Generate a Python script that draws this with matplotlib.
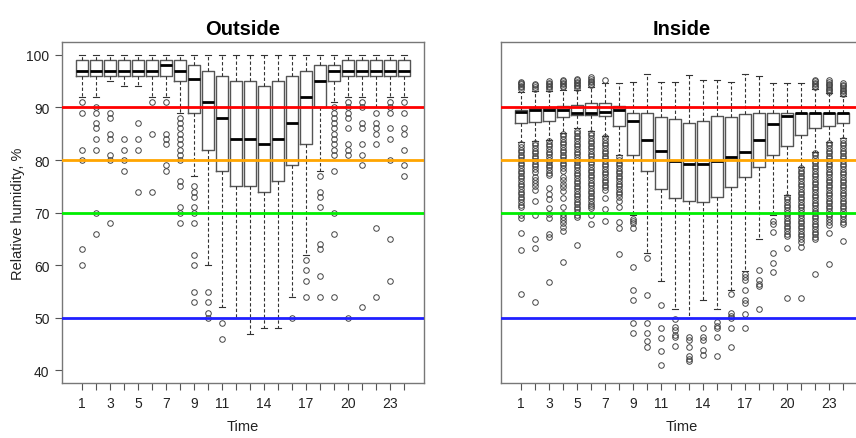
import matplotlib
matplotlib.use('Agg')
import matplotlib.pyplot as plt

plt.rcParams['font.family'] = ['Liberation Sans', 'DejaVu Sans']

hours = list(range(1, 25))
shown_labels = [1, 3, 5, 7, 9, 11, 14, 17, 20, 23]
ref_levels = [90, 80, 70, 50]
ref_colors = ['#FF0000', '#FFA500', '#00EE00', '#2020FF']

# Outside
out_q1 = [96, 96, 96, 96, 96, 96, 96, 95, 89, 82, 78, 75, 75, 74, 76, 79, 83, 90, 95, 96, 96, 96, 96, 96]
out_med = [97, 97, 97, 97, 97, 97, 98, 97, 95.5, 91, 88, 84, 84, 83, 84, 87, 92, 95, 97, 97, 97, 97, 97, 97]
out_q3 = [99, 99, 99, 99, 99, 99, 99, 99, 98, 97, 96, 95, 95, 94, 95, 96, 97, 98, 98, 99, 99, 99, 99, 99]
out_lo = [92, 92, 95, 94, 94, 92, 92, 89, 77, 60, 52, 50, 47, 48, 48, 54, 62, 78, 91, 92, 92, 90, 92, 92]
out_hi = [100, 100, 100, 100, 100, 100, 100, 100, 100, 100, 100, 100,
          100, 100, 100, 100, 100, 100, 100, 100, 100, 100, 100, 100]
out_fliers = [
    [91, 89, 82, 80, 63, 60],
    [90, 89, 87, 86, 84, 82, 70, 66],
    [89, 88, 85, 84, 81, 80, 68],
    [84, 82, 80, 78],
    [87, 84, 82, 74],
    [91, 85, 74],
    [91, 85, 84, 83, 79, 78],
    [88, 87, 86, 85, 84, 83, 82, 81, 80, 76, 75, 71, 70, 68],
    [75, 74, 73, 71, 70, 68, 62, 60, 55, 53],
    [55, 53, 51, 50],
    [49, 46],
    [],
    [],
    [],
    [],
    [50],
    [61, 59, 57, 54],
    [77, 74, 73, 71, 64, 63, 58, 54],
    [90, 89, 88, 87, 86, 85, 84, 83, 82, 81, 78, 70, 66, 54],
    [91, 90, 89, 88, 86, 83, 82, 81, 50],
    [91, 90, 87, 86, 83, 81, 79, 52],
    [89, 87, 86, 85, 83, 67, 54],
    [91, 90, 89, 86, 84, 80, 65, 57],
    [91, 89, 86, 85, 82, 79, 77],
]

# Inside
in_q1 = [87.1, 87.3, 87.5, 88.1, 88.5, 88.6, 88.3, 86.4, 81.0, 77.9, 74.5, 72.8,
         72.2, 72.1, 72.9, 74.9, 76.7, 78.6, 81.0, 82.7, 84.8, 86.0, 86.5, 87.0]
in_med = [89.1, 89.5, 89.5, 89.5, 89.0, 89.0, 89.1, 89.5, 87.5, 83.8, 81.8, 79.8,
          79.3, 79.3, 79.8, 80.6, 81.6, 83.8, 86.8, 88.4, 89.0, 89.0, 89.0, 89.0]
in_q3 = [89.5, 89.9, 89.9, 90.3, 90.5, 90.8, 90.9, 90.3, 89.0, 89.0, 88.2, 87.8,
         87.1, 87.5, 88.3, 88.2, 88.8, 89.0, 89.0, 89.0, 89.0, 89.0, 89.0, 89.0]
in_lo = [83.5, 83.6, 83.8, 85.2, 86.0, 85.5, 84.6, 80.9, 69.6, 62.4, 57.0, 51.7,
         50.0, 53.4, 51.7, 55.2, 58.9, 65.0, 69.5, 73.3, 78.7, 81.6, 83.5, 84.1]
in_hi = [93.0, 93.2, 93.2, 93.4, 93.4, 93.9, 94.6, 94.6, 94.9, 96.4, 94.9, 94.9,
         96.2, 95.2, 95.2, 94.9, 96.3, 96.0, 94.6, 94.6, 94.7, 93.5, 92.8, 92.2]
in_fliers = [
    [93.5, 93.8, 94.1, 94.4, 94.7, 94.9,
     83.0, 82.5, 82.0, 81.5, 81.0, 80.5, 80.0, 79.5, 79.0, 78.5, 78.0, 77.5, 77.0,
     76.5, 76.0, 75.5, 75.0, 74.5, 74.0, 73.5, 73.0, 72.5, 72.0, 71.5, 71.0,
     69.5, 69.0, 66.1, 62.8, 54.5],
    [93.6, 93.9, 94.2, 94.5,
     83.3, 82.8, 82.3, 81.8, 81.3, 80.8, 80.3, 79.8, 79.3, 78.8, 78.3, 77.8,
     76.8, 76.2, 75.6, 75.0, 74.3, 72.2, 69.6, 64.9, 63.3, 53.0],
    [93.5, 93.8, 94.1, 94.4, 94.7, 95.0,
     83.6, 83.1, 82.6, 82.1, 81.6, 81.1, 80.6, 80.1, 79.6, 79.1, 78.6, 78.1, 77.6, 77.1,
     74.6, 73.6, 72.5, 70.8, 69.7, 69.0, 66.0, 65.4, 56.8],
    [93.8, 94.1, 94.4, 94.7, 95.0, 95.3,
     85.0, 84.5, 84.0, 83.5, 83.0, 82.5, 82.0, 81.5, 81.0, 80.5, 80.0, 79.5, 79.0,
     78.5, 78.0, 76.8, 76.2, 75.5, 74.8, 74.2, 72.8, 71.0, 69.7, 69.2, 68.6, 68.0,
     67.3, 66.6, 60.6],
    [93.7, 94.0, 94.3, 94.6, 94.9, 95.2, 95.4,
     85.6, 85.1, 84.6, 84.1, 83.6, 83.1, 82.6, 82.1, 81.6, 81.1, 80.6, 80.1, 79.6,
     79.1, 78.6, 78.1, 77.6, 77.1, 76.6, 76.1, 75.6, 75.1, 74.6, 74.1, 73.6, 73.1,
     72.6, 72.1, 71.6, 71.1, 70.6, 70.1, 69.6, 69.1, 63.8],
    [94.2, 94.5, 94.8, 95.1, 95.4, 95.7,
     85.2, 84.7, 84.2, 83.7, 83.2, 82.7, 82.2, 81.7, 81.2, 80.7, 80.2, 79.7, 79.2,
     78.7, 78.2, 77.7, 77.2, 76.7, 76.2, 75.7, 75.2, 74.7, 74.2, 73.7, 73.2, 72.7,
     72.2, 71.7, 71.2, 70.8, 69.5, 67.9],
    [95.2,
     84.3, 83.8, 83.3, 82.8, 82.3, 81.8, 81.3, 80.8, 80.3, 79.8, 79.3, 78.8, 78.3,
     77.8, 77.3, 76.8, 76.3, 75.8, 75.3, 74.8, 74.3, 72.7, 70.7, 68.4],
    [80.5, 80.0, 79.5, 79.0, 78.5, 78.0, 77.5, 77.0, 76.5, 76.0, 75.5, 75.0, 74.5,
     74.0, 73.5, 73.0, 72.2, 71.0, 68.2, 67.0, 62.2],
    [68.7, 68.4, 68.0, 67.0, 59.7, 55.2, 53.4, 49.0, 47.2],
    [61.4, 54.3, 49.0, 47.2, 45.5, 44.5],
    [52.5, 48.1, 46.2, 43.7, 41.0],
    [49.8, 48.2, 47.6, 46.8, 46.3, 44.6],
    [46.3, 45.7, 44.5, 42.8, 42.2, 41.7],
    [48.1, 46.3, 45.7, 43.8, 43.0],
    [49.2, 48.5, 48.0, 46.3, 42.7],
    [54.5, 51.0, 50.4, 49.9, 48.1, 44.5],
    [58.4, 57.8, 57.2, 55.2, 53.4, 52.8, 50.8, 48.1],
    [59.0, 57.2, 56.5, 56.0, 51.7],
    [68.4, 67.9, 66.4, 62.3, 60.5, 58.7],
    [73.0, 72.5, 72.0, 71.5, 71.0, 70.5, 70.0, 69.5, 69.0, 68.5, 68.0, 67.5, 67.0,
     66.5, 66.0, 65.5, 63.3, 53.8],
    [78.5, 78.0, 77.5, 77.0, 76.5, 76.0, 75.5, 75.0, 74.5, 74.0, 73.5, 73.0, 72.5,
     72.0, 71.5, 71.0, 70.5, 70.0, 69.5, 69.0, 68.5, 68.0, 67.5, 67.0, 66.5, 66.0,
     65.5, 65.0, 64.5, 63.5, 53.8],
    [93.8, 94.1, 94.4, 94.7, 95.0, 95.2,
     81.4, 80.9, 80.4, 79.9, 79.4, 78.9, 78.4, 77.9, 77.4, 76.9, 76.4, 75.9, 75.4,
     74.9, 74.4, 73.9, 73.4, 72.9, 72.4, 71.9, 71.4, 70.9, 70.4, 69.9, 69.4, 68.9,
     68.4, 67.9, 67.4, 66.9, 66.4, 65.9, 65.4, 65.0, 58.4],
    [93.0, 93.3, 93.6, 93.9, 94.2, 94.5, 94.8, 95.2,
     83.3, 82.8, 82.3, 81.8, 81.3, 80.8, 80.3, 79.8, 79.3, 78.8, 78.3, 77.8, 77.3,
     76.8, 76.3, 75.8, 75.3, 74.8, 74.3, 73.8, 73.3, 72.8, 72.3, 71.8, 71.3, 70.8,
     70.3, 69.8, 69.3, 68.8, 68.3, 67.6, 66.1, 60.3],
    [92.5, 92.8, 93.1, 93.4, 93.7, 94.0, 94.3, 94.6,
     83.8, 83.3, 82.8, 82.3, 81.8, 81.3, 80.8, 80.3, 79.8, 79.3, 78.8, 78.3, 77.8,
     77.3, 76.8, 76.3, 75.8, 75.3, 74.8, 74.3, 73.8, 73.3, 72.8, 72.3, 71.8, 71.3,
     70.8, 70.3, 69.8, 69.3, 68.8, 68.3, 67.8, 64.7],
]


def make_stats(q1, med, q3, lo, hi, fliers):
    return [dict(q1=q1[i], med=med[i], q3=q3[i], whislo=lo[i], whishi=hi[i],
                 fliers=fliers[i]) for i in range(len(q1))]


def draw_panel(ax, stats, title):
    ax.bxp(stats, positions=hours, widths=0.8, capwidths=0.4, manage_ticks=False,
           boxprops=dict(color='#555555', linewidth=1.0),
           medianprops=dict(color='black', linewidth=2.0, solid_capstyle='butt'),
           whiskerprops=dict(color='#333333', linewidth=0.8, linestyle=(0, (3, 2))),
           capprops=dict(color='#333333', linewidth=0.8),
           flierprops=dict(marker='o', markerfacecolor='none', markeredgecolor='#444444',
                           markersize=4, markeredgewidth=0.7))
    for lev, col in zip(ref_levels, ref_colors):
        ax.axhline(lev, color=col, linewidth=2, zorder=4)
    ax.set_xlim(-0.43, 25.43)
    ax.set_ylim(37.6, 102.45)
    ax.set_xticks(hours)
    ax.set_xticklabels([str(h) if h in shown_labels else '' for h in hours])
    ax.tick_params(axis='x', length=5, width=0.8, color='#555555', pad=4.5, labelsize=10,
                   labelcolor='#222222')
    for sp in ax.spines.values():
        sp.set_color('#777777')
        sp.set_linewidth(1.0)
    ax.set_title(title, fontsize=14.5, fontweight='bold', pad=6)
    ax.set_xlabel('Time', fontsize=10.5, color='#222222')
    ax.xaxis.set_label_coords(0.5, -0.126)
    ax.xaxis.label.set_va('center')


W, H = 856.0, 439.0
fig = plt.figure(figsize=(W / 100, H / 100), dpi=100)
ax1 = fig.add_axes([62 / W, (H - 384) / H, 362 / W, 341 / H])
ax2 = fig.add_axes([501 / W, (H - 384) / H, 362 / W, 341 / H])

draw_panel(ax1, make_stats(out_q1, out_med, out_q3, out_lo, out_hi, out_fliers), 'Outside')
draw_panel(ax2, make_stats(in_q1, in_med, in_q3, in_lo, in_hi, in_fliers), 'Inside')

ax1.set_yticks([40, 50, 60, 70, 80, 90, 100])
ax1.tick_params(axis='y', length=5, width=0.8, color='#555555', pad=4, labelsize=10,
                labelcolor='#222222')
ax1.set_ylabel('Relative humidity, %', fontsize=10.5, color='#222222')
ax1.yaxis.set_label_coords(-0.1215, 0.5)
ax1.yaxis.label.set_va('center')

ax2.set_yticks([])

fig.savefig('out.png', dpi=100)
